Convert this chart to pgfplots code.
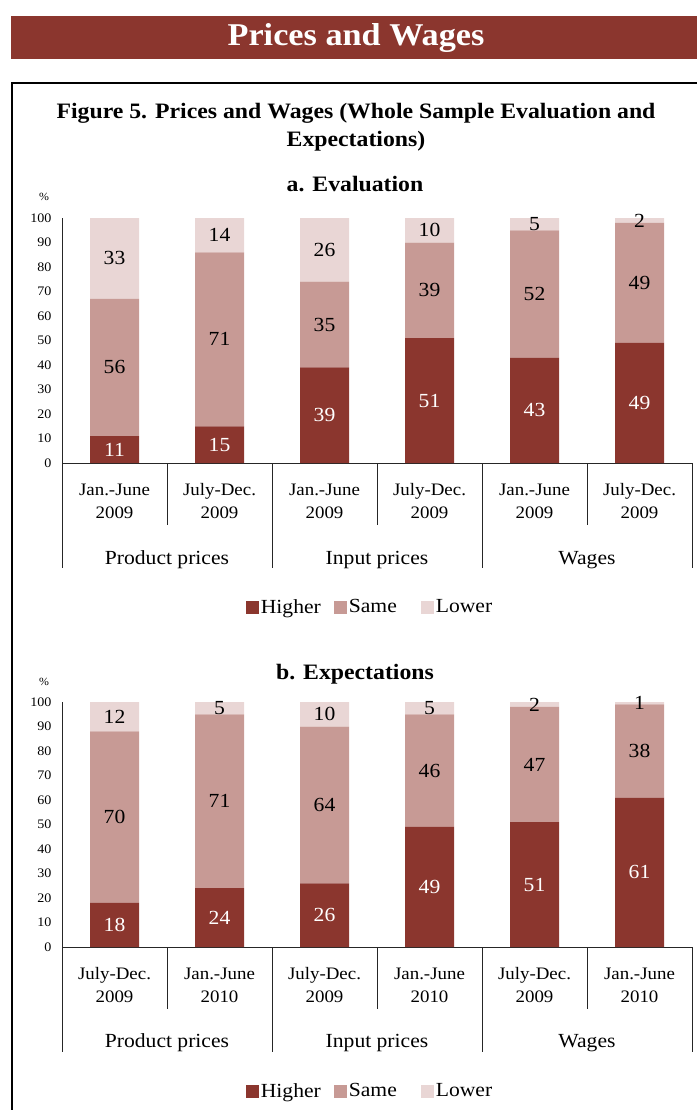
\documentclass[border=0pt]{standalone}
\usepackage{fontspec}
\setmainfont[FakeStretch=1.08]{Liberation Serif}
\usepackage{pgfplots}
\pgfplotsset{compat=1.18}
\usepackage{pgfplotstable}

\definecolor{wine}{RGB}{139,54,46}
\definecolor{rose}{RGB}{199,154,149}
\definecolor{blush}{RGB}{233,214,213}

% Share of firms (%) reporting higher / same / lower
\pgfplotstableread{
x Higher Same Lower
0 11 56 33
1 15 71 14
2 39 35 26
3 51 39 10
4 43 52 5
5 49 49 2
}\evaltab

\pgfplotstableread{
x Higher Same Lower
0 18 70 12
1 24 71 5
2 26 64 10
3 49 46 5
4 51 47 2
5 61 38 1
}\expecttab

\tikzset{divider/.style={line width=0.9pt, black!85}}

\pgfplotsset{
  survey/.style={
    scale only axis, width=630pt, height=245pt,
    ybar stacked, bar width=49pt,
    every axis plot/.append style={
      legend image code/.code={\fill[##1] (0pt,-6.5pt) rectangle (13pt,6.5pt);}},
    xmin=-0.5, xmax=5.5, ymin=0, ymax=100,
    axis lines=left,
    axis line style={-, line width=0.9pt, black!85},
    ytick={0,10,...,100},
    xtick={0,...,5},
    tick style={draw=none},
    /pgf/number format/assume math mode=true,
    yticklabel style={font=\fontsize{13}{15}\selectfont, xshift=-5pt},
    xticklabel style={font=\fontsize{17.5}{23}\selectfont, align=center,
      anchor=north, inner sep=0pt, yshift=-14pt},
    clip=false,
    legend columns=3,
    legend style={draw=none, fill=none, at={(0.489,-0.588)}, anchor=center,
      font=\fontsize{20}{22}\selectfont,
      nodes={inner sep=2pt},
      /tikz/every even column/.append style={column sep=11pt}},
    % each segment carries its own value, written at the segment's middle
    point meta=explicit symbolic,
    nodes near coords={\pgfplotspointmeta},
    every node near coord/.append style={font=\fontsize{20}{22}\selectfont,
      anchor=center},
  },
}

% category dividers and group names under the x axis
\newcommand\groupaxis[1]{%
  \pgfplotsinvokeforeach{-0.5,1.5,3.5,5.5}{\draw[divider] (axis cs:##1,0) -- ++(0pt,-105pt);}%
  \pgfplotsinvokeforeach{0.5,2.5,4.5}{\draw[divider] (axis cs:##1,0) -- ++(0pt,-62pt);}%
  \node[anchor=base, font=\fontsize{20}{22}\selectfont] at (axis cs:0.5,0) [yshift=-#1] {Product prices};
  \node[anchor=base, font=\fontsize{20}{22}\selectfont] at (axis cs:2.5,0) [yshift=-#1] {Input prices};
  \node[anchor=base, font=\fontsize{20}{22}\selectfont] at (axis cs:4.5,0) [yshift=-#1] {Wages};
}

\begin{document}
\begin{tikzpicture}[x=1pt,y=1pt]
\useasboundingbox (0,0) rectangle (696,-1110);

% banner
\fill[wine] (11,-16) rectangle (700,-59);
\node[anchor=base, text=white, font=\bfseries\fontsize{31.7}{36}\selectfont]
  at (356,-46) {Prices and Wages};

% frame
\draw[line width=1.1pt] (12,-1120) -- (12,-83) -- (700,-83);

\node[anchor=base, font=\bfseries\fontsize{22}{27}\selectfont] at (356,-119)
  {Figure 5. Prices and Wages (Whole Sample Evaluation and};
\node[anchor=base, font=\bfseries\fontsize{22}{27}\selectfont] at (356,-147)
  {Expectations)};

% ---------- a. Evaluation ----------
\node[anchor=base, font=\bfseries\fontsize{22}{26}\selectfont] at (355,-192) {a. Evaluation};
\node[font=\fontsize{11}{12}\selectfont] at (44,-197) {\%};

\begin{axis}[survey, at={(62pt,-463pt)}, anchor=south west,
  xticklabels={{\strut Jan.-June\\2009},{\strut July-Dec.\\2009},
               {\strut Jan.-June\\2009},{\strut July-Dec.\\2009},
               {\strut Jan.-June\\2009},{\strut July-Dec.\\2009}}]
\addplot[fill=wine, draw=none, every node near coord/.append style={text=white}]
  table[x=x, y=Higher, meta=Higher] {\evaltab};
\addplot[fill=rose, draw=none] table[x=x, y=Same, meta=Same] {\evaltab};
\addplot[fill=blush, draw=none] table[x=x, y=Lower, meta=Lower] {\evaltab};
\addlegendentry{Higher}
\addlegendentry{Same\kern11pt\mbox{}}
\addlegendentry{Lower}
\groupaxis{101pt}
\end{axis}

% ---------- b. Expectations ----------
\node[anchor=base, font=\bfseries\fontsize{22}{26}\selectfont] at (355,-679) {b. Expectations};
\node[font=\fontsize{11}{12}\selectfont] at (44,-682) {\%};

\begin{axis}[survey, at={(62pt,-947pt)}, anchor=south west,
  xticklabels={{\strut July-Dec.\\2009},{\strut Jan.-June\\2010},
               {\strut July-Dec.\\2009},{\strut Jan.-June\\2010},
               {\strut July-Dec.\\2009},{\strut Jan.-June\\2010}}]
\addplot[fill=wine, draw=none, every node near coord/.append style={text=white}]
  table[x=x, y=Higher, meta=Higher] {\expecttab};
\addplot[fill=rose, draw=none] table[x=x, y=Same, meta=Same] {\expecttab};
\addplot[fill=blush, draw=none] table[x=x, y=Lower, meta=Lower] {\expecttab};
\addlegendentry{Higher}
\addlegendentry{Same\kern11pt\mbox{}}
\addlegendentry{Lower}
\groupaxis{100pt}
\end{axis}
\end{tikzpicture}
\end{document}
